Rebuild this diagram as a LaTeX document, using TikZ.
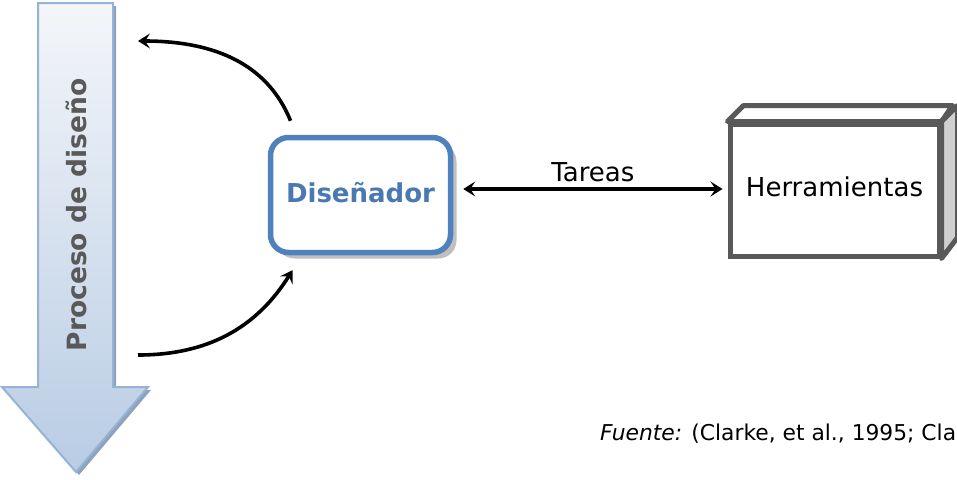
\documentclass[tikz,border=0pt]{standalone}
\usepackage{fontspec}
\setmainfont{DejaVu Sans}
\usetikzlibrary{arrows.meta,shadows}
\definecolor{arrowtop}{HTML}{F4F6F9}
\definecolor{arrowbot}{HTML}{B8CCE4}
\definecolor{arrowedge}{HTML}{95B3D7}
\definecolor{arrowshadow}{HTML}{8FA2BC}
\definecolor{disblue}{HTML}{4F81BD}
\definecolor{distext}{HTML}{4A78B2}
\definecolor{boxgray}{HTML}{595959}
\definecolor{sidegray}{HTML}{D0D0D0}
\tikzset{
  conn/.style={line width=3.6pt, draw=black},
  tipstyle/.tip={Stealth[length=12pt,width=15pt,inset=5pt]},
  disbox/.style={draw=disblue, line width=5.5pt, fill=white, rounded corners=18pt,
    minimum width=180pt, minimum height=115pt, inner sep=0pt,
    font=\bfseries\fontsize{26}{30}\selectfont, text=distext,
    drop shadow={shadow xshift=6pt, shadow yshift=-6pt, fill=black!25, opacity=1}},
  toolbox/.style={draw=boxgray, line width=5pt, fill=white,
    minimum width=209pt, minimum height=132pt, inner sep=0pt,
    font=\fontsize{26}{30}\selectfont},
  plain/.style={font=\fontsize{26}{30}\selectfont, inner sep=0pt},
}
\begin{document}
\begin{tikzpicture}[x=1pt,y=-1pt]
\useasboundingbox (0,0) rectangle (957,479);
% process arrow shadow
\fill[arrowshadow] (41,6) -- (116,6) -- (116,390) -- (151,390) -- (79,475) -- (5,390) -- (41,390) -- cycle;
% process arrow
\shade[top color=arrowtop, bottom color=arrowbot, draw=arrowedge, line width=2pt, line join=miter]
  (38,3) -- (113,3) -- (113,387) -- (148,387) -- (76,472) -- (2,387) -- (38,387) -- cycle;
\node[rotate=90, font=\bfseries\fontsize{26.5}{30}\selectfont, text=boxgray, inner sep=0pt] (proc) at (76,215) {Proceso de diseño};
% designer
\node[disbox] (dis) at (360.5,195) {\raisebox{5pt}{Diseñador}};
% tools box
\node[toolbox] (tools) at (834.5,190) {\raisebox{7pt}{Herramientas}};
\filldraw[draw=boxgray, fill=white, line width=5pt, line join=round]
  (tools.north west) -- ++(16,-16) -- ++(209,0) -- (tools.north east) -- cycle;
\filldraw[draw=boxgray, fill=sidegray, line width=5pt, line join=round]
  (tools.north east) -- ++(16,-16) -- ++(0,132) -- (tools.south east) -- cycle;
% connectors
\coordinate (topend) at (138,41);
\coordinate (botstart) at (138,355);
\draw[conn, -{tipstyle}] ([xshift=-70pt,yshift=14pt]dis.north) to[out=112,in=0] (topend);
\draw[conn, -{tipstyle}] (botstart) to[out=0,in=238] ([xshift=-68pt,yshift=-15pt]dis.south);
\draw[conn, {tipstyle}-{tipstyle}] ([xshift=10pt,yshift=6pt]dis.east) -- ([xshift=-5pt,yshift=1pt]tools.west)
  node[midway, above=5pt, plain] (tareas) {Tareas};
% source
\node[anchor=base west, inner sep=0pt, font=\fontsize{21.8}{25}\selectfont] (src) at (600,440) {\textit{Fuente:} (Clarke, et al., 1995; Cla};
\end{tikzpicture}
\end{document}
